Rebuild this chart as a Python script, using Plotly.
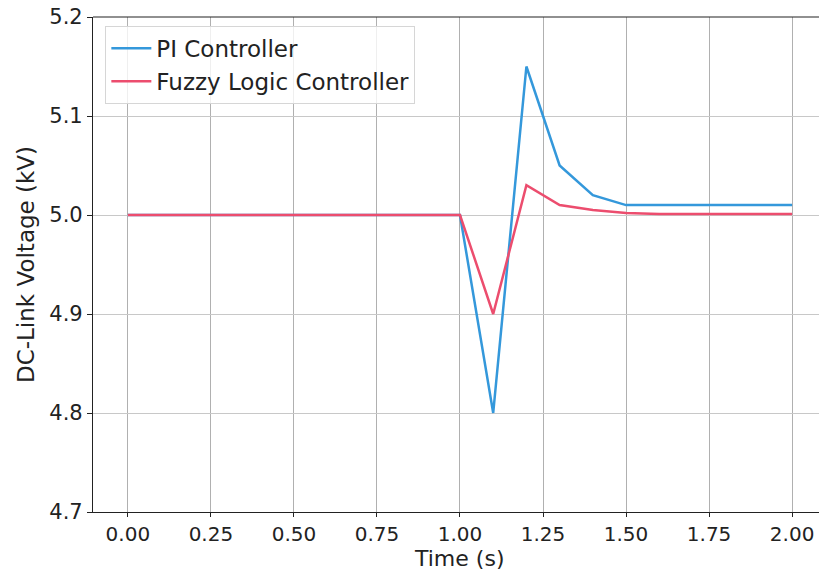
import plotly.graph_objects as go

time_s = [0.0, 0.1, 0.2, 0.3, 0.4, 0.5, 0.6, 0.7, 0.8, 0.9, 1.0, 1.1, 1.2, 1.3, 1.4, 1.5, 1.6, 1.7, 1.8, 1.9, 2.0]
pi_voltage = [5.0, 5.0, 5.0, 5.0, 5.0, 5.0, 5.0, 5.0, 5.0, 5.0, 5.0, 4.8, 5.15, 5.05, 5.02, 5.01, 5.01, 5.01, 5.01, 5.01, 5.01]
fuzzy_voltage = [5.0, 5.0, 5.0, 5.0, 5.0, 5.0, 5.0, 5.0, 5.0, 5.0, 5.0, 4.9, 5.03, 5.01, 5.005, 5.002, 5.001, 5.001, 5.001, 5.001, 5.001]
x_ticks = [0.0, 0.25, 0.5, 0.75, 1.0, 1.25, 1.5, 1.75, 2.0]
x_tick_labels = ["0.00", "0.25", "0.50", "0.75", "1.00", "1.25", "1.50", "1.75", "2.00"]
y_ticks = [4.7, 4.8, 4.9, 5.0, 5.1, 5.2]
y_tick_labels = ["4.7", "4.8", "4.9", "5.0", "5.1", "5.2"]

FONT = "DejaVu Sans"

fig = go.Figure()
fig.add_trace(go.Scatter(x=time_s, y=pi_voltage, mode="lines", name="PI Controller",
                         line=dict(color="#3498db", width=2.5)))
fig.add_trace(go.Scatter(x=time_s, y=fuzzy_voltage, mode="lines", name="Fuzzy Logic Controller",
                         line=dict(color="#ec4d6e", width=2.5)))

fig.update_layout(
    width=819, height=571,
    margin=dict(l=93, r=0, t=17, b=59),
    paper_bgcolor="white", plot_bgcolor="white",
    font=dict(family=FONT, color="#222222", size=21),
    showlegend=True,
    legend=dict(x=0.017, y=0.982, xanchor="left", yanchor="top",
                bgcolor="rgba(255,255,255,0.8)", bordercolor="#d6d6d6", borderwidth=1,
                font=dict(family=FONT, size=23, color="#222222"),
                tracegroupgap=0, itemwidth=40),
    xaxis=dict(range=[-0.105, 2.081], tickmode="array", tickvals=x_ticks, ticktext=x_tick_labels,
               showgrid=True, gridcolor="#b0b0b0", gridwidth=1,
               showline=True, linecolor="#222222", linewidth=1.2,
               ticks="outside", ticklen=4, tickcolor="#222222",
               tickfont=dict(size=20), zeroline=False),
    yaxis=dict(range=[4.7, 5.2], tickmode="array", tickvals=y_ticks, ticktext=y_tick_labels,
               showgrid=True, gridcolor="#c8c8c8", gridwidth=1,
               showline=True, linecolor="#222222", linewidth=1.2,
               ticks="outside", ticklen=5, tickcolor="#222222",
               tickfont=dict(size=21), zeroline=False,
               title=dict(text="DC-Link Voltage (kV)", font=dict(size=23), standoff=8)),
    shapes=[dict(type="line", xref="paper", yref="paper", x0=0, x1=1, y0=1, y1=1,
                 line=dict(color="#222222", width=1.2))],
    annotations=[dict(text="Time (s)", xref="paper", yref="paper", x=(459 - 93) / 726, y=-0.094,
                      xanchor="center", yanchor="middle", showarrow=False,
                      font=dict(family=FONT, size=22, color="#222222"))],
)

fig.write_html("out.html")
